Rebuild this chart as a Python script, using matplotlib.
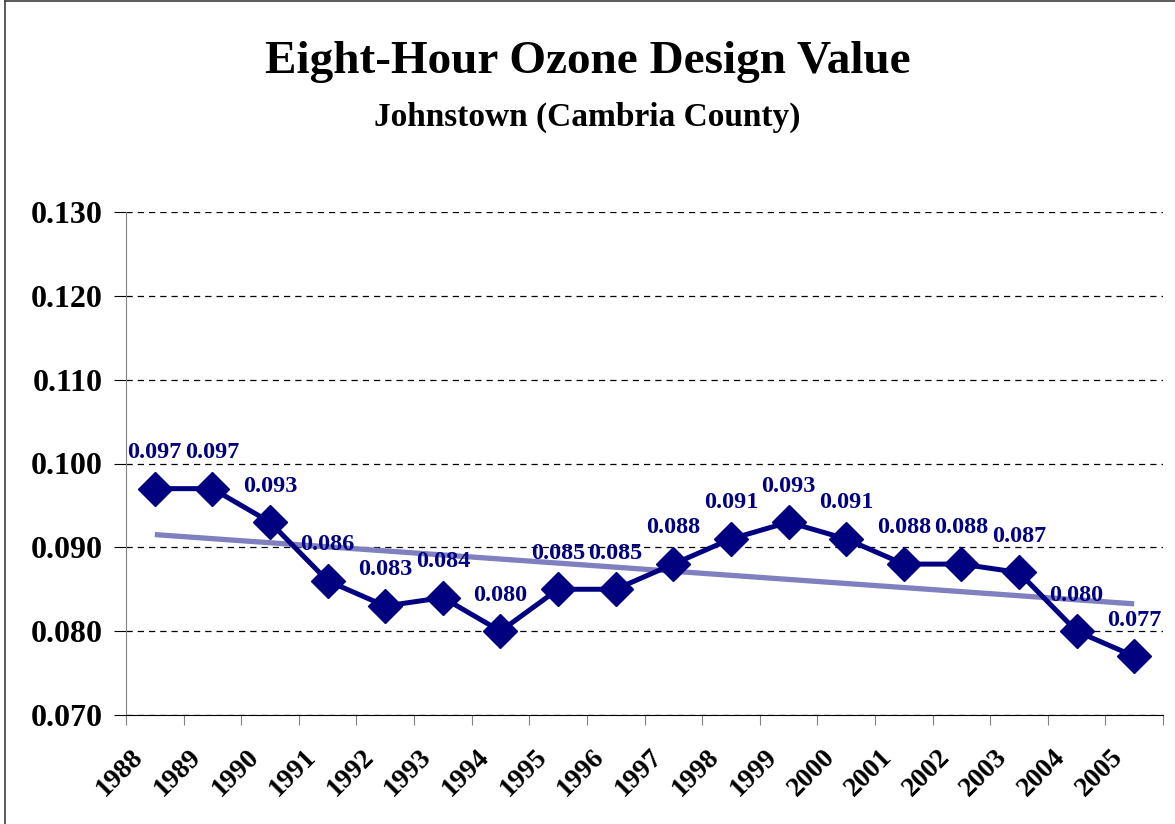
import numpy as np
import matplotlib.pyplot as plt
import matplotlib.transforms as mtransforms
from matplotlib.lines import Line2D

# data
years = [str(y) for y in range(1988, 2006)]
design_values = [0.097, 0.097, 0.093, 0.086, 0.083, 0.084, 0.080, 0.085, 0.085,
                 0.088, 0.091, 0.093, 0.091, 0.088, 0.088, 0.087, 0.080, 0.077]
y_ticks = [0.070, 0.080, 0.090, 0.100, 0.110, 0.120, 0.130]

navy = '#000080'
trend_color = '#8080C0'

plt.rcParams['font.family'] = ['Liberation Serif', 'DejaVu Serif']
plt.rcParams['font.weight'] = 'bold'

fig = plt.figure(figsize=(11.75, 8.24), dpi=100)
ax = fig.add_axes([126 / 1175, 1 - 715 / 824, (1163 - 126) / 1175, (715 - 212) / 824])

x = np.arange(len(years))

# linear trend line
coef = np.polyfit(x, design_values, 1)
ax.plot(x, np.polyval(coef, x), color=trend_color, lw=3.8, zorder=2, solid_capstyle='butt')

# main series
ax.plot(x, design_values, color=navy, lw=3.6, marker='D', ms=17, zorder=3)

for xi, v in zip(x, design_values):
    ax.annotate(f'{v:.3f}', (xi, v), xytext=(0, 26), textcoords='offset points',
                ha='center', va='center', color=navy, fontsize=17.5, fontweight='bold', zorder=4)

ax.set_xlim(-0.5, len(years) - 0.5)
ax.set_ylim(0.070, 0.130)
ax.set_yticks(y_ticks)
ax.set_yticklabels([f'{t:.3f}' for t in y_ticks], fontsize=23, fontweight='bold')
ax.yaxis.grid(True, color='black', linestyle=(0, (5, 4)), lw=0.9)
ax.set_axisbelow(True)

# category ticks between years, labels at centres
ax.set_xticks(np.arange(-0.5, len(years), 1.0))
ax.set_xticklabels([])
ax.set_xticks(x, minor=True)
ax.set_xticklabels(years, minor=True, rotation=45, ha='right', va='top',
                   rotation_mode='anchor', fontsize=20, fontweight='bold')
ax.tick_params(axis='x', which='minor', length=0, pad=21)
ax.tick_params(axis='x', which='major', length=7, direction='out', color='#808080')
ax.tick_params(axis='y', length=9, direction='out', color='black', pad=8)

shift = mtransforms.ScaledTranslation(-24 / 100, 0, fig.dpi_scale_trans)
for lbl in ax.get_xticklabels(minor=True):
    lbl.set_transform(lbl.get_transform() + shift)

for s in ['top', 'right']:
    ax.spines[s].set_visible(False)
ax.spines['left'].set_color('#808080')
ax.spines['bottom'].set_color('black')

fig.text(0.5, 1 - 62 / 824, 'Eight-Hour Ozone Design Value', ha='center', va='center',
         fontsize=34, fontweight='bold')
fig.text(0.5, 1 - 117 / 824, 'Johnstown (Cambria County)', ha='center', va='center',
         fontsize=24, fontweight='bold')

# chart frame
fig.add_artist(Line2D([5 / 1175, 5 / 1175], [0, 1], transform=fig.transFigure, color='#404040', lw=1.2))
fig.add_artist(Line2D([5 / 1175, 1], [1 - 1 / 824, 1 - 1 / 824], transform=fig.transFigure, color='#404040', lw=1.2))

fig.savefig('out.png', dpi=100)
